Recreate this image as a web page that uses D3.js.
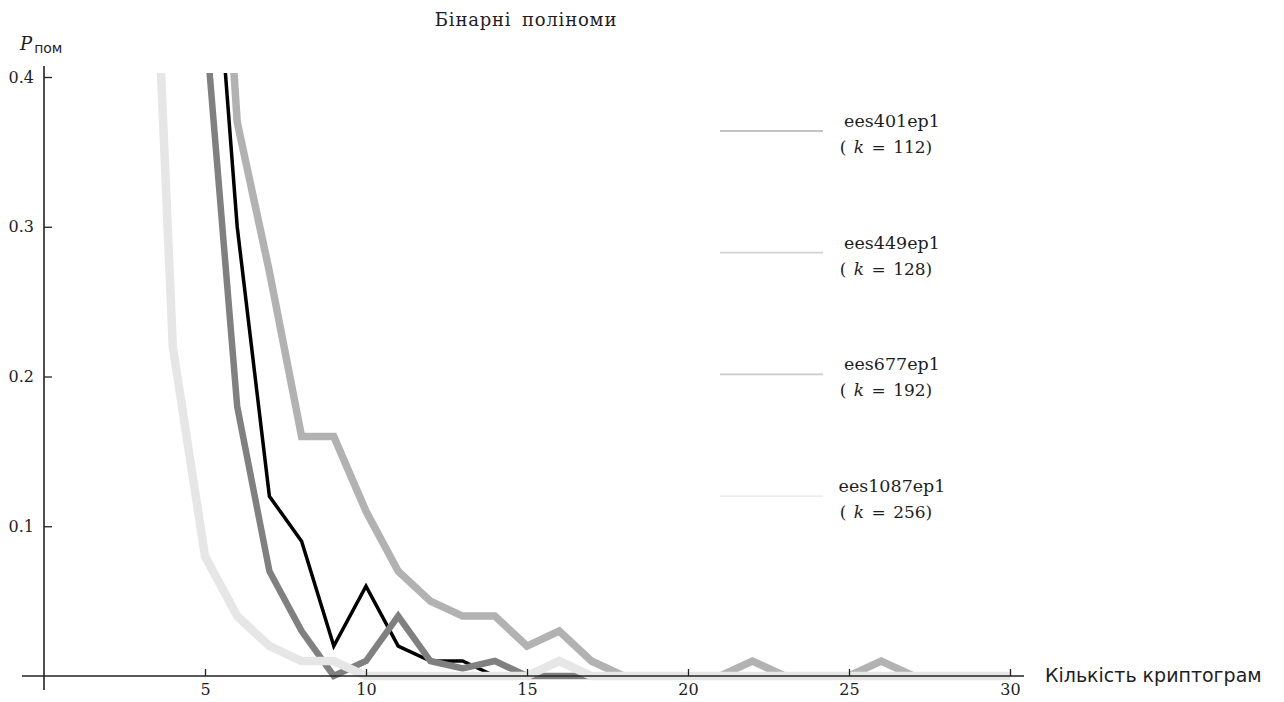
<!DOCTYPE html>
<html>
<head>
<meta charset="utf-8">
<script src="https://cdn.jsdelivr.net/npm/d3@7"></script>
<style>
  body { margin: 0; background: #fff; }
  svg text { fill: #1e1e1e; }
</style>
</head>
<body>
<script>
// number of cryptograms on the x axis
const cryptograms = [3, 4, 5, 6, 7, 8, 9, 10, 11, 12, 13, 14, 15, 16, 17, 18, 19, 20, 21, 22, 23, 24, 25, 26, 27, 28, 29, 30];

// probabilities per curve (null = not plotted)
const blackVals  = [null, null, 0.58, 0.30, 0.12, 0.09, 0.02, 0.06, 0.02, 0.01, 0.01, 0, 0, 0, 0, 0, 0, 0, 0, 0, 0, 0, 0, 0, 0, 0, 0, 0];
const darkVals   = [null, null, 0.44, 0.18, 0.07, 0.03, 0, 0.01, 0.04, 0.01, 0.005, 0.01, 0, 0, 0, 0, 0, 0, 0, 0, 0, 0, 0, 0, 0, 0, 0, 0];
const mediumVals = [null, null, 0.70, 0.37, 0.27, 0.16, 0.16, 0.11, 0.07, 0.05, 0.04, 0.04, 0.02, 0.03, 0.01, 0, 0, 0, 0, 0.01, 0, 0, 0, 0.01, 0, 0, 0, 0];
const lightVals  = [0.72, 0.22, 0.08, 0.04, 0.02, 0.01, 0.01, 0, 0, 0, 0, 0, 0, 0.01, 0, 0, 0, 0, 0, 0, 0, 0, 0, 0, 0, 0, 0, 0];

const legendNames = ['ees401ep1', 'ees449ep1', 'ees677ep1', 'ees1087ep1'];
const legendK = [112, 128, 192, 256];

const xTicks = [5, 10, 15, 20, 25, 30];
const yTicks = [0.1, 0.2, 0.3, 0.4];

const width = 1284, height = 702;
const x0 = 44, x1 = 1010, yBase = 676, yTop = 77;
const serif = '"DejaVu Serif", serif';

const svg = d3.select('body')
    .append('svg')
    .attr('width', width)
    .attr('height', height);

const x = d3.scaleLinear().domain([0, 30]).range([x0, x1]);
const y = d3.scaleLinear().domain([0, 0.4]).range([yBase, yTop]);

// title
svg.append('text')
    .attr('x', 526).attr('y', 26)
    .attr('text-anchor', 'middle')
    .style('font-family', serif)
    .style('font-size', '18px')
    .style('letter-spacing', '0.8px')
    .style('word-spacing', '4px')
    .text('Бінарні поліноми');

// curves
svg.append('clipPath').attr('id', 'clip')
    .append('rect')
    .attr('x', x0).attr('y', 73)
    .attr('width', x1 - x0 + 10).attr('height', 640);

const line = d3.line()
    .defined(d => d[1] != null)
    .x(d => x(d[0]))
    .y(d => y(d[1]));

const curves = [
    {vals: blackVals, color: '#000000', w: 3.5},
    {vals: darkVals, color: '#808080', w: 6.5},
    {vals: mediumVals, color: '#b2b2b2', w: 7.5},
    {vals: lightVals, color: '#e6e6e6', w: 8.5}
];

const plot = svg.append('g').attr('clip-path', 'url(#clip)');
curves.forEach(c => {
    plot.append('path')
        .datum(cryptograms.map((k, i) => [k, c.vals[i]]))
        .attr('fill', 'none')
        .attr('stroke', c.color)
        .attr('stroke-width', c.w)
        .attr('stroke-linejoin', 'miter')
        .attr('d', line);
});

// axes
const axisColor = '#222';

const gx = svg.append('g').attr('transform', 'translate(0,' + yBase + ')');
gx.call(d3.axisBottom(x).tickValues(d3.range(1, 31)).tickSize(-4).tickFormat(''));
gx.call(d3.axisBottom(x).tickValues(xTicks).tickSize(-7).tickPadding(8).tickFormat(d3.format('d')));
gx.selectAll('.domain').remove();
gx.selectAll('line').attr('stroke', axisColor).attr('stroke-width', 1.3);
gx.selectAll('text')
    .style('font-family', serif)
    .style('font-size', '16px');
gx.append('line')
    .attr('x1', 22).attr('x2', 1024)
    .attr('stroke', axisColor).attr('stroke-width', 1.6);

const gy = svg.append('g').attr('transform', 'translate(' + x0 + ',0)');
gy.call(d3.axisLeft(y).tickValues(d3.range(1, 21).map(i => i * 0.02)).tickSize(-5).tickFormat(''));
gy.call(d3.axisLeft(y).tickValues(yTicks).tickSize(-8).tickPadding(10).tickFormat(d3.format('.1f')));
gy.selectAll('.domain').remove();
gy.selectAll('line').attr('stroke', axisColor).attr('stroke-width', 1.3);
gy.selectAll('text')
    .style('font-family', serif)
    .style('font-size', '16px');
gy.append('line')
    .attr('y1', 66).attr('y2', 690)
    .attr('stroke', axisColor).attr('stroke-width', 1.6);

// axis labels
const yl = svg.append('text').attr('x', 20).attr('y', 50);
yl.append('tspan')
    .style('font-family', serif)
    .style('font-style', 'italic')
    .style('font-size', '18px')
    .text('P');
yl.append('tspan')
    .attr('dx', 2).attr('dy', 3)
    .style('font-family', '"DejaVu Sans", sans-serif')
    .style('font-size', '14px')
    .text('пом');

svg.append('text')
    .attr('x', 1045).attr('y', 682)
    .style('font-family', '"DejaVu Sans", sans-serif')
    .style('font-size', '19px')
    .text('Кількість криптограм');

// legend
const legendColors = ['#c4c4c4', '#d2d2d2', '#cacaca', '#ececec'];
legendNames.forEach((name, i) => {
    const ly = 131 + i * 121.7;
    svg.append('line')
        .attr('x1', 720).attr('x2', 823)
        .attr('y1', ly).attr('y2', ly)
        .attr('stroke', legendColors[i]).attr('stroke-width', 1.8);
    svg.append('text')
        .attr('x', 892).attr('y', ly - 4)
        .attr('text-anchor', 'middle')
        .style('font-family', serif)
        .style('font-size', '17.5px')
        .text(name);
    const t = svg.append('text')
        .attr('x', 886).attr('y', ly + 22)
        .attr('text-anchor', 'middle')
        .style('font-family', serif)
        .style('font-size', '17px')
        .style('word-spacing', '2px');
    t.append('tspan').text('( ');
    t.append('tspan').style('font-style', 'italic').text('k');
    t.append('tspan').text(' = ' + legendK[i] + ')');
});
</script>
</body>
</html>
